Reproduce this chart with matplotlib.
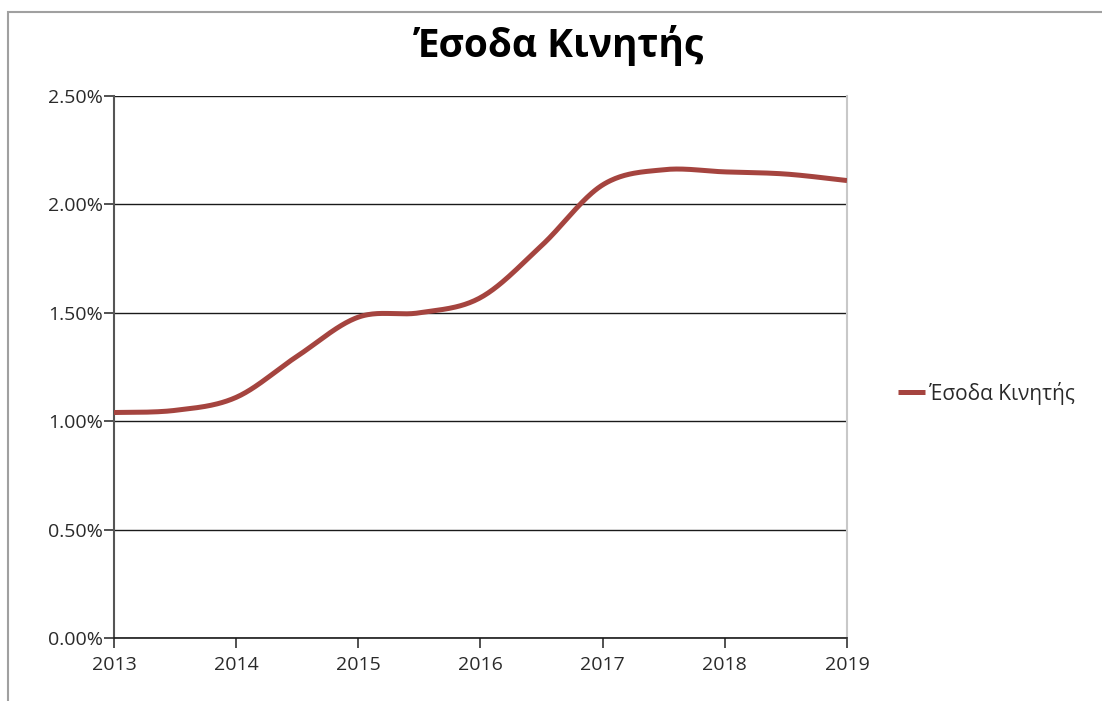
import numpy as np
import matplotlib.pyplot as plt
from matplotlib.patches import Rectangle
from matplotlib.ticker import PercentFormatter

# Εξαμηνιαίες τιμές (%)
periods = [2013.0, 2013.5, 2014.0, 2014.5, 2015.0, 2015.5, 2016.0,
           2016.5, 2017.0, 2017.5, 2018.0, 2018.5, 2019.0]
esoda = [1.04, 1.05, 1.11, 1.30, 1.48, 1.50, 1.57,
         1.81, 2.09, 2.16, 2.15, 2.14, 2.11]
year_ticks = [2013, 2014, 2015, 2016, 2017, 2018, 2019]
pct_ticks = [0.0, 0.5, 1.0, 1.5, 2.0, 2.5]


def smooth(x, y, n=40):
    # Ομαλή καμπύλη τύπου Excel (Bezier με σημεία ελέγχου ανά 1/6)
    x = np.asarray(x, float)
    y = np.asarray(y, float)
    px = np.concatenate([[x[0]], x, [x[-1]]])
    py = np.concatenate([[y[0]], y, [y[-1]]])
    t = np.linspace(0, 1, n)[:, None]
    xs, ys = [], []
    for i in range(1, len(px) - 2):
        p0 = np.array([px[i], py[i]])
        p3 = np.array([px[i + 1], py[i + 1]])
        p1 = p0 + (np.array([px[i + 1], py[i + 1]]) - np.array([px[i - 1], py[i - 1]])) / 6
        p2 = p3 - (np.array([px[i + 2], py[i + 2]]) - np.array([px[i], py[i]])) / 6
        b = (1 - t) ** 3 * p0 + 3 * (1 - t) ** 2 * t * p1 + 3 * (1 - t) * t ** 2 * p2 + t ** 3 * p3
        xs.append(b[:, 0])
        ys.append(b[:, 1])
    return np.concatenate(xs), np.concatenate(ys)


plt.rcParams['font.family'] = ['Open Sans', 'DejaVu Sans']

fig = plt.figure(figsize=(11.02, 7.01), dpi=100, facecolor='w')
fig.patches.append(Rectangle((8 / 1102, -0.05), 1.2, 1 - 11.5 / 701 + 0.05,
                             transform=fig.transFigure, fill=False,
                             edgecolor='#a0a0a0', linewidth=1.5))

ax = fig.add_axes([114 / 1102, 1 - 638 / 701, (847 - 114) / 1102, (638 - 96) / 701])

sx, sy = smooth(periods, esoda)
ax.plot(sx, sy, color='#a5443f', lw=3.6, solid_capstyle='butt',
        label='Έσοδα Κινητής', zorder=4)

ax.set_xlim(2013, 2019)
ax.set_ylim(0, 2.5)
ax.set_xticks(year_ticks)
ax.set_yticks(pct_ticks)
ax.yaxis.set_major_formatter(PercentFormatter(decimals=2))

ax.grid(True, axis='y', color='#1a1a1a', linewidth=1.0)
ax.set_axisbelow(True)
ax.spines['top'].set_visible(False)
ax.spines['right'].set_color('#c8c8c8')
ax.spines['right'].set_linewidth(1.5)
ax.spines['left'].set_color('#555555')
ax.spines['left'].set_linewidth(1.5)
ax.spines['bottom'].set_color('#1a1a1a')
ax.spines['bottom'].set_linewidth(1.2)
ax.tick_params(axis='both', direction='out', length=7, width=1.2,
               colors='#333333', labelsize=14, labelcolor='#2a2a2a')
ax.tick_params(axis='x', pad=6)
ax.tick_params(axis='y', pad=1)

fig.text(0.508, 1 - 45 / 701, 'Έσοδα Κινητής', ha='center', va='center',
         fontsize=28, fontweight='bold', color='#000000')

ax.legend(loc='center left', bbox_to_anchor=(898 / 1102, 1 - 393 / 701),
          bbox_transform=fig.transFigure, frameon=False,
          fontsize=15, handlelength=1.3, handletextpad=0.2,
          borderaxespad=0, borderpad=0, labelcolor='#2a2a2a')

fig.savefig('out.png', dpi=100, facecolor='w')
